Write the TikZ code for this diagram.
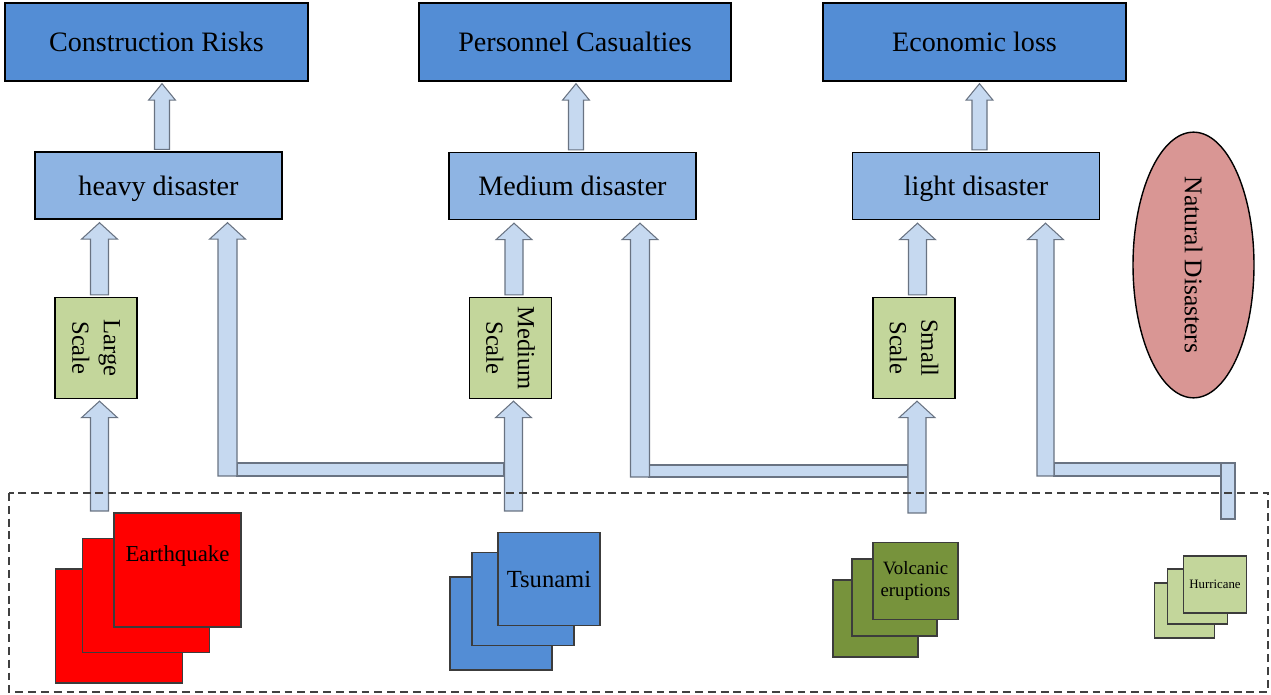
\documentclass[tikz,border=0pt]{standalone}
\usepackage{fontspec}
\setmainfont{Liberation Serif}
\usetikzlibrary{calc,shapes.geometric}
\definecolor{topblue}{RGB}{83,141,213}
\definecolor{midblue}{RGB}{142,180,227}
\definecolor{arrowfill}{RGB}{198,217,240}
\definecolor{arrowline}{RGB}{105,115,130}
\definecolor{scalegreen}{RGB}{195,214,155}
\definecolor{natred}{RGB}{217,150,148}
\definecolor{olive}{RGB}{119,147,60}
\definecolor{cardline}{RGB}{60,60,60}
% block arrow pointing up: tail, target, half shaft, half head
\newcommand{\blockup}[4]{%
  \draw[blockarrow] let \p1=#1, \p2=#2 in
    (\x1-#3,\y1) -- (\x1-#3,\y2-0.33cm) -- (\x1-#4,\y2-0.33cm) -- (\x1,\y2)
    -- (\x1+#4,\y2-0.33cm) -- (\x1+#3,\y2-0.33cm) -- (\x1+#3,\y1) -- cycle;}

\begin{document}
\begin{tikzpicture}[x=0.02cm,y=-0.02cm,
  effect/.style={draw=black,line width=0.8pt,fill=topblue,minimum width=6.06cm,minimum height=1.56cm,text height=14pt,text depth=3pt,font=\fontsize{16}{19}\selectfont},
  level/.style={draw=black,line width=0.8pt,fill=midblue,minimum width=4.94cm,minimum height=1.34cm,text height=14pt,text depth=3pt,font=\fontsize{16}{19}\selectfont},
  scalebox/.style={draw=black,line width=0.8pt,fill=scalegreen,rotate=-90,minimum width=2.02cm,minimum height=1.64cm,align=center,font=\fontsize{14}{18}\selectfont},
  blockarrow/.style={draw=arrowline,line width=0.6pt,fill=arrowfill},
  card/.style={draw=cardline,line width=0.6pt}]
\useasboundingbox (0,0) rectangle (1271,695);

% consequences
\node[effect] (risk) at (156.5,42) {Construction Risks};
\node[effect,minimum width=6.24cm] (casualty) at (575,42) {Personnel Casualties};
\node[effect] (loss) at (974.5,42) {Economic loss};

% disaster levels
\node[level] (heavy) at (158.5,185.5) {heavy disaster};
\node[level] (medium) at (572.5,186) {Medium disaster};
\node[level] (light) at (976,186) {light disaster};

% scales (rotated: east is the bottom, west the top)
\node[scalebox] (large) at (96,348) {Large\\Scale};
\node[scalebox] (mid) at (510.5,348) {Medium\\Scale};
\node[scalebox] (small) at (914,348) {Small\\Scale};

\node[ellipse,draw=black,line width=0.8pt,fill=natred,rotate=-90,minimum width=5.2cm,minimum height=2.42cm,font=\fontsize{14.5}{17}\selectfont] (natural) at (1193.5,265) {Natural Disasters};

% disaster cards
\foreach \i/\x/\y in {1/119/626,2/146/595.5}
  \node[card,fill=red,minimum width=2.54cm,minimum height=2.28cm] (quake\i) at (\x,\y) {};
\node[card,fill=red,minimum width=2.54cm,minimum height=2.28cm,
  label={[anchor=center,yshift=-0.88cm,font=\fontsize{13}{15}\selectfont]north:Earthquake}] (quake3) at (177.5,570) {};

\foreach \i/\x/\y in {1/501/623.5,2/523/599}
  \node[card,fill=topblue,minimum width=2.04cm,minimum height=1.86cm] (tsunami\i) at (\x,\y) {};
\node[card,fill=topblue,minimum width=2.04cm,minimum height=1.86cm,font=\fontsize{14}{16}\selectfont] (tsunami3) at (549,579) {Tsunami};

\foreach \i/\x/\y in {1/875.5/618.5,2/894.5/597.5}
  \node[card,fill=olive,minimum width=1.7cm,minimum height=1.54cm] (volcano\i) at (\x,\y) {};
\node[card,fill=olive,minimum width=1.7cm,minimum height=1.54cm,align=center,font=\fontsize{10.7}{12.3}\selectfont] (volcano3) at (915.5,581) {Volcanic\\eruptions};

\foreach \i/\x/\y in {1/1184.5/610.5,2/1197.5/596.5}
  \node[card,fill=scalegreen,minimum width=1.2cm,minimum height=1.1cm] (hurricane\i) at (\x,\y) {};
\node[card,fill=scalegreen,minimum width=1.26cm,minimum height=1.14cm,font=\fontsize{7.3}{9}\selectfont] (hurricane3) at (1215,584.5) {Hurricane};

% arrow tails
\coordinate (quaketail) at (99.5,511);
\coordinate (tsutail) at (513.5,511);
\coordinate (voltail) at (917,513);
\coordinate (hurtail) at (1228,519);
\coordinate (bendA) at (227.5,476);
\coordinate (bendB) at (640,477);
\coordinate (bendC) at (1045.5,476);

% level -> consequence
\blockup{($(heavy.north)+(3.5,-2)$)}{($(risk.south)+(0,2)$)}{0.15cm}{0.27cm}
\blockup{($(medium.north)+(3.5,-2)$)}{($(casualty.south)+(0,2)$)}{0.15cm}{0.27cm}
\blockup{($(light.north)+(3.5,-2)$)}{($(loss.south)+(0,2)$)}{0.15cm}{0.27cm}

% scale -> level
\blockup{($(large.west)+(3.5,-2)$)}{($(heavy.south)+(0,3)$)}{0.18cm}{0.36cm}
\blockup{($(mid.west)+(3.5,-2)$)}{($(medium.south)+(0,3)$)}{0.18cm}{0.36cm}
\blockup{($(small.west)+(3.5,-2)$)}{($(light.south)+(0,3)$)}{0.18cm}{0.36cm}

% bent links
\draw[blockarrow] ($(bendA)+(9.5,-13)$) rectangle ($(tsutail|-bendA)+(-9.5,0)$);
\blockup{(bendA)}{($(heavy.south)+(0,3)$)}{0.19cm}{0.36cm}
\draw[blockarrow] ($(bendB)+(9,-12)$) rectangle ($(voltail|-bendB)+(-9,0)$);
\blockup{(bendB)}{($(medium.south)+(0,3)$)}{0.19cm}{0.36cm}
\draw[blockarrow] ($(bendC)+(8.5,-13)$) rectangle ($(hurtail|-bendC)+(-7,0)$);
\draw[blockarrow] ($(hurtail)+(-7,0)$) rectangle ($(hurtail|-bendC)+(7,-13)$);
\blockup{(bendC)}{($(light.south)+(0,3)$)}{0.17cm}{0.36cm}

% event -> scale
\blockup{(quaketail)}{($(large.east)+(0,2)$)}{0.18cm}{0.36cm}
\blockup{(tsutail)}{($(mid.east)+(0,2)$)}{0.18cm}{0.36cm}
\blockup{(voltail)}{($(small.east)+(0,2)$)}{0.18cm}{0.36cm}

% natural disasters frame
\draw[black!75,line width=0.7pt,dash pattern=on 4.5pt off 2.8pt] (9,493) rectangle (1268,692);
\end{tikzpicture}
\end{document}
